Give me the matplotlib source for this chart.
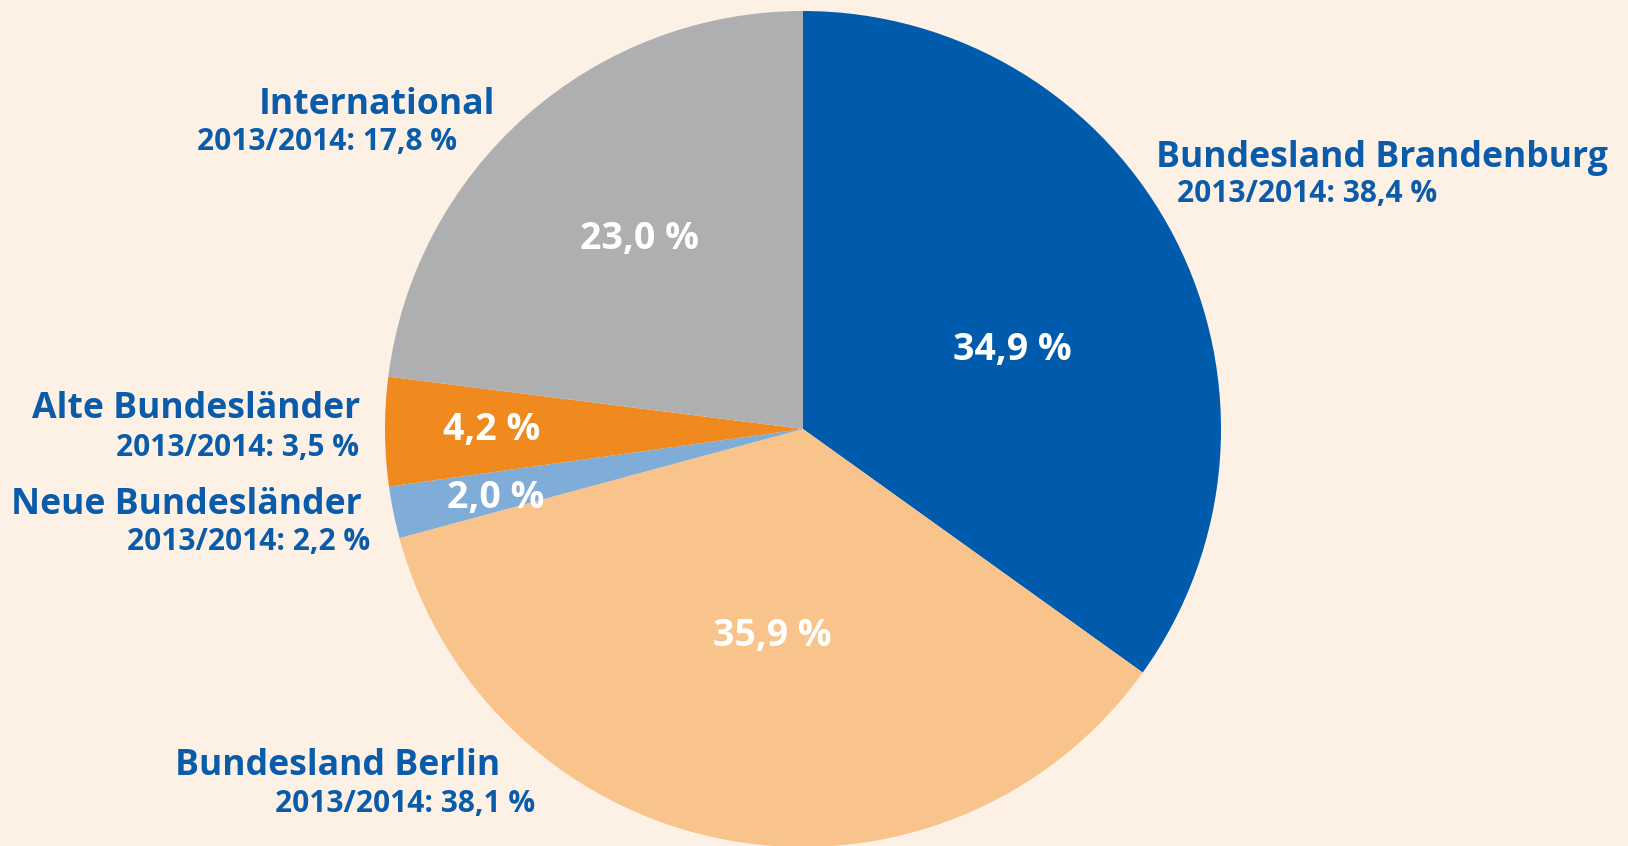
import matplotlib
matplotlib.use("Agg")
import matplotlib.pyplot as plt

# ── data ─────────────────────────────────────────────────────────
categories = ["Bundesland Brandenburg", "Bundesland Berlin", "Neue Bundesländer",
              "Alte Bundesländer", "International"]
shares = [34.9, 35.9, 2.0, 4.2, 23.0]
previous = ["38,4", "38,1", "2,2", "3,5", "17,8"]
colors = ["#005BAC", "#F8C48C", "#7FADD8", "#F0891E", "#AEAFB1"]

BG = "#FDF1E6"
TXT = "#0A5CAA"
W, H = 1628, 846

plt.rcParams["font.family"] = ["Open Sans", "DejaVu Sans"]

fig = plt.figure(figsize=(W / 100, H / 100), dpi=100, facecolor=BG)
ax = fig.add_axes([0, 0, 1, 1])

cx, cy, r = 803, H - 429, 418
ax.pie(shares, colors=colors, startangle=90, counterclock=False,
       center=(cx, cy), radius=r, frame=True,
       wedgeprops=dict(linewidth=0))
ax.set_xlim(0, W)
ax.set_ylim(0, H)
ax.set_aspect("equal")
ax.axis("off")

# values inside slices (pixel positions from top-left)
inner_pos = [(1012, 350), (772, 636), (496, 498), (492, 430), (639, 239)]
for v, (x, y) in zip(shares, inner_pos):
    ax.text(x, H - y, f"{v:.1f} %".replace(".", ","), color="white",
            fontsize=27, fontweight="bold", ha="center", va="center")

# outer labels: (x, y_name, y_sub, ha, sub_x)
outer = [
    (1156, 158, 194, "left", 1177),
    (175, 766, 804, "left", 275),
    (362, 505, 542, "right", 370),
    (360, 409, 448, "right", 359),
    (495, 105, 142, "right", 457),
]
for name, prev, (x, yn, ys, ha, xs) in zip(categories, previous, outer):
    ax.text(x, H - yn, name, color=TXT, fontsize=25.7, fontweight="bold",
            ha=ha, va="center")
    ax.text(xs, H - ys, f"2013/2014: {prev} %", color=TXT, fontsize=21.5,
            fontweight="bold", ha=ha, va="center")

fig.savefig("out.png", dpi=100, facecolor=BG)
